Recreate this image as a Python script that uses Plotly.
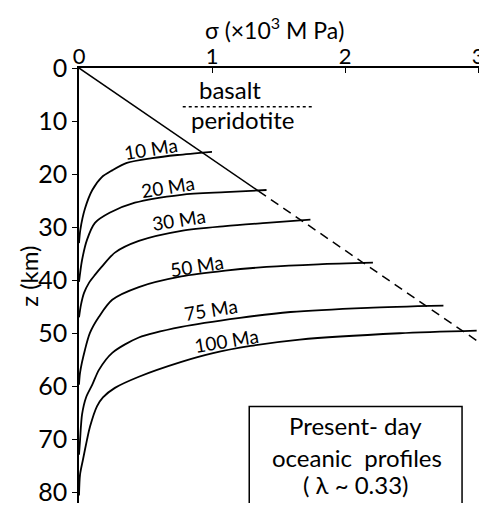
import plotly.graph_objects as go

# ---- data ----
ages = ["10 Ma", "20 Ma", "30 Ma", "50 Ma", "75 Ma", "100 Ma"]

sigma_10 = [0.0, 0.01, 0.045, 0.10, 0.17, 0.25, 0.36, 0.55, 0.74, 1.00]
z_10 = [33.0, 30.5, 26.5, 23.0, 20.6, 19.3, 17.9, 17.0, 16.4, 15.8]

sigma_20 = [0.0, 0.023, 0.06, 0.12, 0.23, 0.42, 0.77, 1.10, 1.41]
z_20 = [40.3, 36.2, 32.4, 29.2, 27.3, 25.4, 23.9, 23.4, 23.0]

sigma_30 = [0.0, 0.015, 0.038, 0.075, 0.12, 0.17, 0.27, 0.45, 0.77, 1.10, 1.41, 1.74]
z_30 = [47.0, 44.6, 42.4, 40.5, 39.0, 37.5, 34.8, 32.6, 30.7, 29.8, 29.2, 28.6]

sigma_50 = [0.0, 0.008, 0.045, 0.083, 0.15, 0.25, 0.45, 0.77, 1.10, 1.41, 1.80, 2.21]
z_50 = [59.7, 57.4, 53.1, 49.9, 46.9, 43.7, 41.3, 39.3, 38.2, 37.5, 37.0, 36.7]

sigma_75 = [0.0, 0.008, 0.023, 0.053, 0.10, 0.15, 0.25, 0.45, 0.77, 1.21, 1.59, 2.17, 2.74]
z_75 = [72.9, 70.1, 65.3, 62.1, 59.7, 56.9, 53.7, 50.8, 48.8, 47.1, 46.0, 45.2, 44.8]

sigma_100 = [0.0, 0.008, 0.03, 0.06, 0.083, 0.135, 0.18, 0.27, 0.45, 0.77, 1.00, 1.29, 1.66, 2.41, 2.99]
z_100 = [80.6, 76.6, 73.8, 70.1, 67.6, 63.8, 62.1, 60.3, 58.2, 55.4, 53.8, 52.4, 51.2, 50.0, 49.5]

brittle_solid_sigma = [0.0, 1.35]
brittle_solid_z = [0.0, 23.2]
brittle_dash_sigma = [1.35, 3.02]
brittle_dash_z = [23.2, 51.9]

x_ticks = [0, 1, 2, 3]
y_ticks = [0, 10, 20, 30, 40, 50, 60, 70, 80]

# label centre positions (sigma, z) for the age labels
label_sigma = [0.54, 0.67, 0.75, 0.89, 0.99, 1.11]
label_z = [15.2, 22.3, 28.6, 37.2, 45.6, 51.3]

FONT = "Lato"
curves = [(sigma_10, z_10), (sigma_20, z_20), (sigma_30, z_30),
          (sigma_50, z_50), (sigma_75, z_75), (sigma_100, z_100)]

fig = go.Figure()
for (sx, sz), name in zip(curves, ages):
    fig.add_trace(go.Scatter(x=sx, y=sz, mode="lines", name=name,
                             line=dict(color="black", width=1.8, shape="spline", smoothing=0.8),
                             showlegend=False, hoverinfo="skip"))

fig.add_trace(go.Scatter(x=brittle_solid_sigma, y=brittle_solid_z, mode="lines",
                         line=dict(color="black", width=1.5), showlegend=False))
fig.add_trace(go.Scatter(x=brittle_dash_sigma, y=brittle_dash_z, mode="lines",
                         line=dict(color="black", width=1.5, dash="9px,6px"), showlegend=False))

for name, lx, lz in zip(ages, label_sigma, label_z):
    fig.add_annotation(x=lx, y=lz, text=name, showarrow=False, textangle=-9,
                       font=dict(family=FONT, size=19, color="black"),
                       xanchor="center", yanchor="middle")

# basalt / peridotite
fig.add_annotation(x=1.135, y=4.0, text="basalt", showarrow=False,
                   font=dict(family=FONT, size=24, color="black"))
fig.add_annotation(x=1.23, y=9.8, text="peridotite", showarrow=False,
                   font=dict(family=FONT, size=24, color="black"))
fig.add_shape(type="line", x0=0.78, x1=1.75, y0=7.3, y1=7.3, xref="x", yref="y",
              line=dict(color="black", width=1.5, dash="dot"))

# axis titles
fig.add_annotation(xref="paper", yref="paper", x=0.485, y=1.0, yshift=40,
                   xanchor="center", yanchor="middle",
                   text="σ (×10<sup>3</sup> M Pa)", showarrow=False,
                   font=dict(family=FONT, size=23, color="black"))
fig.add_annotation(xref="paper", yref="paper", x=0.0, y=0.52, xshift=-50,
                   xanchor="center", yanchor="middle", textangle=-90,
                   text="z (km)", showarrow=False,
                   font=dict(family=FONT, size=24, color="black"))

# box
fig.add_shape(type="path", xref="x", yref="y",
              path="M 1.28,83 L 1.28,63.8 L 2.88,63.8 L 2.88,83",
              line=dict(color="black", width=1.5))
fig.add_annotation(x=2.08, y=67.4, text="Present- day", showarrow=False,
                   font=dict(family=FONT, size=24, color="black"))
fig.add_annotation(x=2.09, y=73.4, text="oceanic  profiles", showarrow=False,
                   font=dict(family=FONT, size=24, color="black"))
fig.add_annotation(x=2.08, y=78.5, text="( λ ~ 0.33)", showarrow=False,
                   font=dict(family=FONT, size=24, color="black"))

# the page adds an 8px body margin, so the figure is sized to fill the rest of the window
fig.update_layout(
    width=479, height=499,
    margin=dict(l=71, r=5, t=60, b=4, autoexpand=False),
    paper_bgcolor="white", plot_bgcolor="white",
    font=dict(family=FONT, color="black"),
    xaxis=dict(side="top", range=[0, 3.03], tickvals=x_ticks,
               ticktext=[str(v) for v in x_ticks], automargin=False,
               showgrid=False, zeroline=False, showline=True, linecolor="black", linewidth=1.5,
               ticks="inside", ticklen=5, tickcolor="black", ticklabelstandoff=-7,
               tickfont=dict(family=FONT, size=22, color="black")),
    yaxis=dict(range=[82, 0], tickvals=y_ticks, ticktext=[str(v) for v in y_ticks],
               automargin=False,
               showgrid=False, zeroline=False, showline=True, linecolor="black", linewidth=1.5,
               ticks="outside", ticklen=5, tickcolor="black",
               tickfont=dict(family=FONT, size=25, color="black")),
)

fig.write_html("out.html")
